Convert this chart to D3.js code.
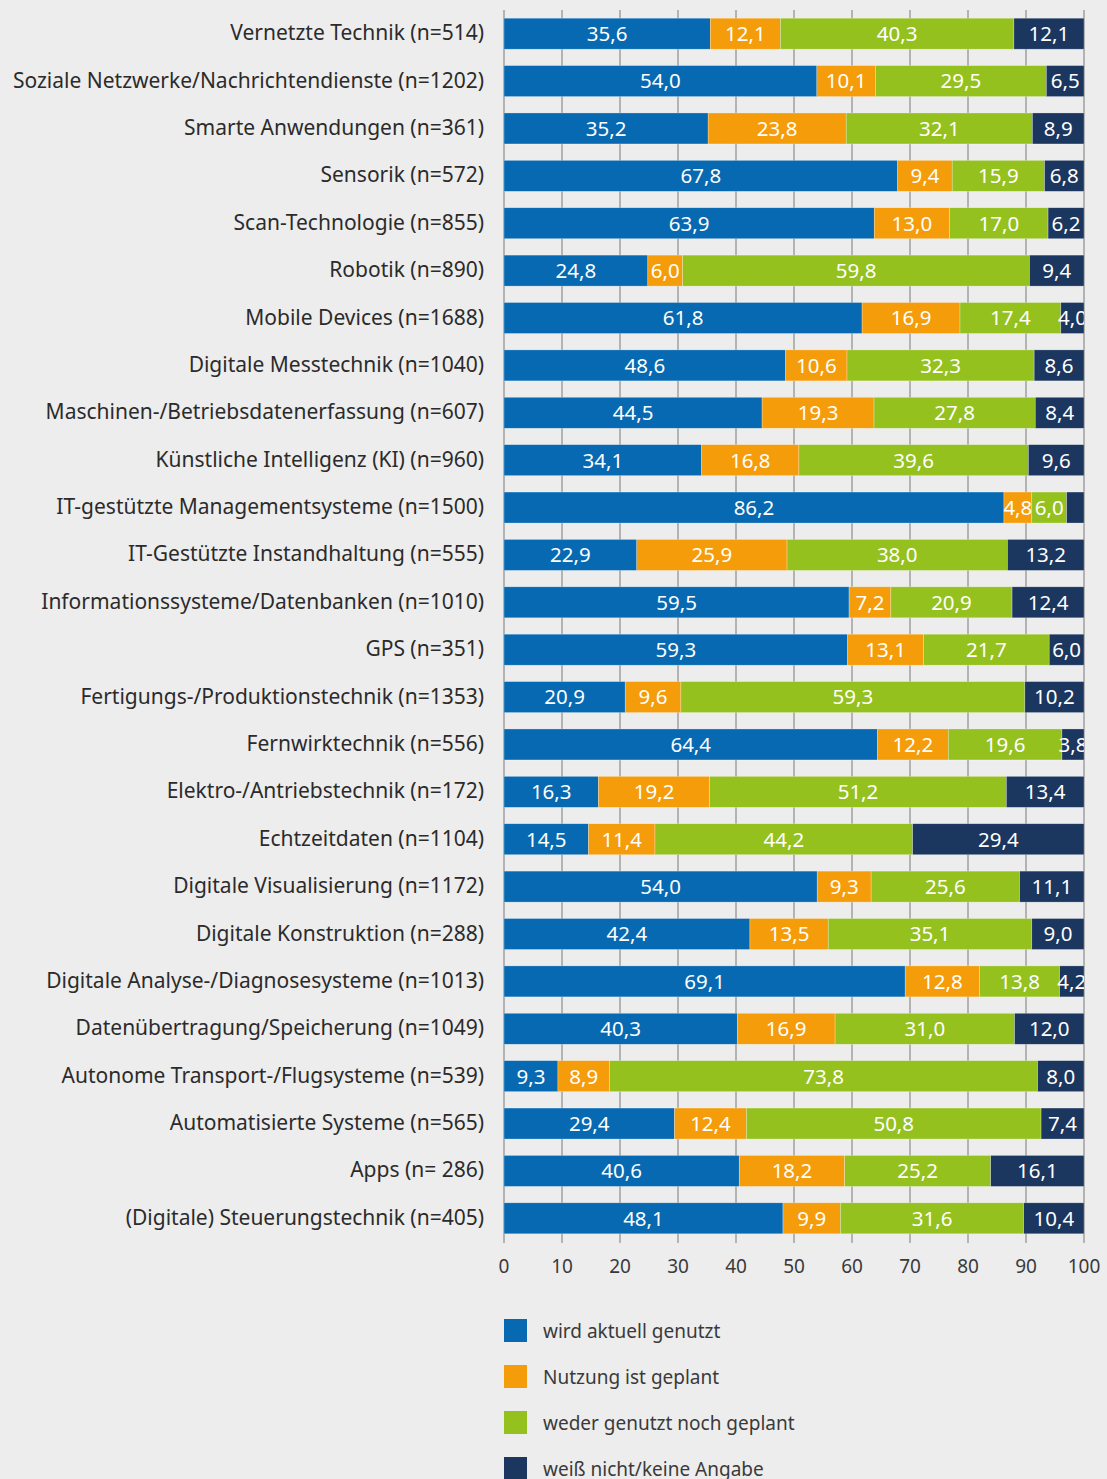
<!DOCTYPE html>
<html>
<head>
<meta charset="utf-8">
<script src="https://cdn.jsdelivr.net/npm/d3@7"></script>
<style>
  body { margin: 0; background: #ededed; }
  svg { display: block; font-family: "Noto Sans", "Open Sans", sans-serif; }
</style>
</head>
<body>
<div id="chart-area"></div>
<script>
// categories, top to bottom
var categories = [
  "Vernetzte Technik (n=514)",
  "Soziale Netzwerke/Nachrichtendienste (n=1202)",
  "Smarte Anwendungen (n=361)",
  "Sensorik (n=572)",
  "Scan-Technologie (n=855)",
  "Robotik (n=890)",
  "Mobile Devices (n=1688)",
  "Digitale Messtechnik (n=1040)",
  "Maschinen-/Betriebsdatenerfassung (n=607)",
  "Künstliche Intelligenz (KI) (n=960)",
  "IT-gestützte Managementsysteme (n=1500)",
  "IT-Gestützte Instandhaltung (n=555)",
  "Informationssysteme/Datenbanken (n=1010)",
  "GPS (n=351)",
  "Fertigungs-/Produktionstechnik (n=1353)",
  "Fernwirktechnik (n=556)",
  "Elektro-/Antriebstechnik (n=172)",
  "Echtzeitdaten (n=1104)",
  "Digitale Visualisierung (n=1172)",
  "Digitale Konstruktion (n=288)",
  "Digitale Analyse-/Diagnosesysteme (n=1013)",
  "Datenübertragung/Speicherung (n=1049)",
  "Autonome Transport-/Flugsysteme (n=539)",
  "Automatisierte Systeme (n=565)",
  "Apps (n= 286)",
  "(Digitale) Steuerungstechnik (n=405)"
];

// series values (%)
var genutzt  = [35.6, 54.0, 35.2, 67.8, 63.9, 24.8, 61.8, 48.6, 44.5, 34.1, 86.2, 22.9, 59.5, 59.3, 20.9, 64.4, 16.3, 14.5, 54.0, 42.4, 69.1, 40.3, 9.3, 29.4, 40.6, 48.1];
var geplant  = [12.1, 10.1, 23.8, 9.4, 13.0, 6.0, 16.9, 10.6, 19.3, 16.8, 4.8, 25.9, 7.2, 13.1, 9.6, 12.2, 19.2, 11.4, 9.3, 13.5, 12.8, 16.9, 8.9, 12.4, 18.2, 9.9];
var weder    = [40.3, 29.5, 32.1, 15.9, 17.0, 59.8, 17.4, 32.3, 27.8, 39.6, 6.0, 38.0, 20.9, 21.7, 59.3, 19.6, 51.2, 44.2, 25.6, 35.1, 13.8, 31.0, 73.8, 50.8, 25.2, 31.6];
var weissNicht = [12.1, 6.5, 8.9, 6.8, 6.2, 9.4, 4.0, 8.6, 8.4, 9.6, 3.0, 13.2, 12.4, 6.0, 10.2, 3.8, 13.4, 29.4, 11.1, 9.0, 4.2, 12.0, 8.0, 7.4, 16.1, 10.4];

var seriesNames = ["wird aktuell genutzt", "Nutzung ist geplant", "weder genutzt noch geplant", "weiß nicht/keine Angabe"];
var seriesColors = ["#0769b1", "#f59c0a", "#95c11f", "#1b365f"];
var xTicks = [0, 10, 20, 30, 40, 50, 60, 70, 80, 90, 100];

var W = 1107, H = 1479;
var margin = { left: 504, right: 23, top: 10, bottom: 237 };

var svg = d3.select("#chart-area").append("svg")
  .attr("width", W)
  .attr("height", H);

svg.append("rect").attr("width", W).attr("height", H).attr("fill", "#ededed");

var x = d3.scaleLinear()
  .domain([0, 100])
  .range([margin.left, W - margin.right]);

var y = d3.scaleBand()
  .domain(categories)
  .range([margin.top, H - margin.bottom])
  .paddingInner(0.346)
  .paddingOuter(0.173);

// build table for stacking (each bar filled to 100 %)
var keys = ["s0", "s1", "s2", "s3"];
var rows = categories.map(function(c, i) {
  return { cat: c, s0: genutzt[i], s1: geplant[i], s2: weder[i], s3: weissNicht[i] };
});
var stack = d3.stack().keys(keys).offset(d3.stackOffsetExpand);
var layers = stack(rows);

// grid lines / ticks
svg.append("g")
  .selectAll("line")
  .data(xTicks)
  .join("line")
  .attr("x1", d => x(d)).attr("x2", d => x(d))
  .attr("y1", margin.top).attr("y2", H - margin.bottom + 1)
  .attr("stroke", "#8c8c8c")
  .attr("stroke-width", 1.2);

svg.append("clipPath").attr("id", "plot-clip")
  .append("rect")
  .attr("x", x(0)).attr("y", 0)
  .attr("width", x(100) - x(0)).attr("height", H);

var plot = svg.append("g").attr("clip-path", "url(#plot-clip)");

layers.forEach(function(layer, k) {
  var key = keys[k];
  var g = plot.append("g");
  g.selectAll("rect")
    .data(layer)
    .join("rect")
    .attr("x", d => x(d[0] * 100))
    .attr("y", d => y(d.data.cat))
    .attr("width", d => x(d[1] * 100) - x(d[0] * 100))
    .attr("height", y.bandwidth())
    .attr("fill", seriesColors[k])
    .attr("stroke", "rgba(255,255,255,0.45)")
    .attr("stroke-width", 0.6);

  g.selectAll("text")
    .data(layer.filter(d => d.data[key] >= 3.5))
    .join("text")
    .attr("x", d => x((d[0] + d[1]) * 50))
    .attr("y", d => y(d.data.cat) + y.bandwidth() / 2)
    .attr("dy", "0.36em")
    .attr("text-anchor", "middle")
    .attr("fill", "#fff")
    .attr("font-size", 20.5)
    .text(d => d3.format(".1f")(d.data[key]).replace(".", ","));
});

// category labels
svg.append("g")
  .selectAll("text")
  .data(categories)
  .join("text")
  .attr("x", margin.left - 20)
  .attr("y", d => y(d) + y.bandwidth() / 2 - 1)
  .attr("dy", "0.36em")
  .attr("text-anchor", "end")
  .attr("fill", "#2b2b2b")
  .attr("font-size", 21)
  .text(d => d);

// x tick labels
svg.append("g")
  .selectAll("text")
  .data(xTicks)
  .join("text")
  .attr("x", d => x(d))
  .attr("y", 1273)
  .attr("text-anchor", "middle")
  .attr("fill", "#3a3a3a")
  .attr("font-size", 19)
  .text(d => d);

// legend
var legend = svg.append("g")
  .selectAll("g")
  .data(seriesNames)
  .join("g")
  .attr("transform", (d, i) => "translate(" + margin.left + "," + (1319 + i * 46) + ")");

legend.append("rect")
  .attr("width", 23).attr("height", 23)
  .attr("fill", (d, i) => seriesColors[i]);

legend.append("text")
  .attr("x", 39)
  .attr("y", 19)
  .attr("fill", "#3a3a3a")
  .attr("font-size", 19)
  .text(d => d);
</script>
</body>
</html>
